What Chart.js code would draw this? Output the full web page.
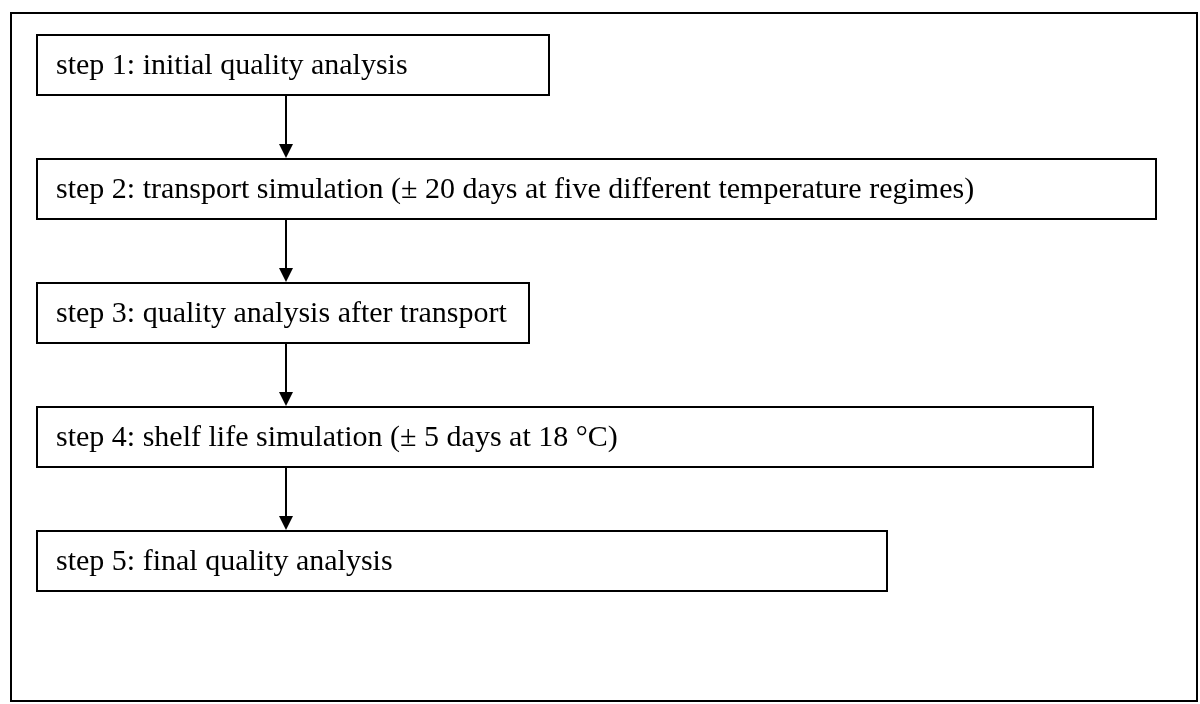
<!DOCTYPE html>
<html>
<head>
<meta charset="utf-8">
<script src="https://cdn.jsdelivr.net/npm/chart.js@4.4.1/dist/chart.umd.min.js"></script>
<style>
  html, body { margin: 0; padding: 0; background: #fff; }
  #wrap { width: 1200px; height: 704px; position: relative; }
</style>
</head>
<body>
<div id="wrap"><canvas id="flow"></canvas></div>
<script>
// steps of the procedure (one box each)
const steps = [
    'step 1: initial quality analysis',
    'step 2: transport simulation (\u00b1 20 days at five different temperature regimes)',
    'step 3: quality analysis after transport',
    'step 4: shelf life simulation (\u00b1 5 days at 18 \u00b0C)',
    'step 5: final quality analysis'
];
// box length of each step on the x scale
const boxLength = [514, 1121, 494, 1058, 852];
// where the arrows join the boxes, on the x scale
const arrowAt = [250, 250, 250, 250];

// outer frame
const framePlugin = {
    id: 'frame',
    beforeDraw(chart) {
        const ctx = chart.ctx;
        ctx.save();
        ctx.fillStyle = '#fff';
        ctx.fillRect(0, 0, chart.width, chart.height);
        ctx.strokeStyle = '#000';
        ctx.lineWidth = 2;
        ctx.strokeRect(11, 13, 1186, 688);
        ctx.restore();
    }
};

// labels inside the boxes and arrows between them
const flowPlugin = {
    id: 'flow',
    afterDatasetsDraw(chart) {
        const ctx = chart.ctx;
        const meta = chart.getDatasetMeta(0);
        const xs = chart.scales.x;
        ctx.save();
        ctx.fillStyle = '#000';
        ctx.font = '30px "Liberation Serif"';
        ctx.textBaseline = 'middle';
        ctx.textAlign = 'left';
        meta.data.forEach((bar, i) => {
            const p = bar.getProps(['base', 'y', 'height'], true);
            ctx.fillText(steps[i], p.base + 20, p.y + 1);
        });
        ctx.strokeStyle = '#000';
        ctx.lineWidth = 2;
        for (let i = 0; i < meta.data.length - 1; i++) {
            const a = meta.data[i].getProps(['y', 'height'], true);
            const b = meta.data[i + 1].getProps(['y', 'height'], true);
            const x = xs.getPixelForValue(arrowAt[i]);
            const y0 = a.y + a.height / 2;
            const y1 = b.y - b.height / 2;
            ctx.beginPath();
            ctx.moveTo(x, y0);
            ctx.lineTo(x, y1 - 12);
            ctx.stroke();
            ctx.beginPath();
            ctx.moveTo(x - 7, y1 - 14);
            ctx.lineTo(x + 7, y1 - 14);
            ctx.lineTo(x, y1);
            ctx.closePath();
            ctx.fill();
        }
        ctx.restore();
    }
};

new Chart(document.getElementById('flow'), {
    type: 'bar',
    data: {
        labels: steps,
        datasets: [{
            data: boxLength.map(v => [0, v]),
            backgroundColor: '#fff',
            borderColor: '#000',
            borderWidth: 2,
            borderSkipped: false,
            categoryPercentage: 1,
            barPercentage: 0.5
        }]
    },
    options: {
        indexAxis: 'y',
        responsive: true,
        maintainAspectRatio: false,
        animation: false,
        layout: { padding: { left: 36, right: 43, top: 3, bottom: 81 } },
        plugins: { legend: { display: false }, tooltip: { enabled: false } },
        scales: {
            x: { type: 'linear', min: 0, max: 1121, display: false },
            y: { display: false }
        }
    },
    plugins: [framePlugin, flowPlugin]
});
</script>
</body>
</html>
